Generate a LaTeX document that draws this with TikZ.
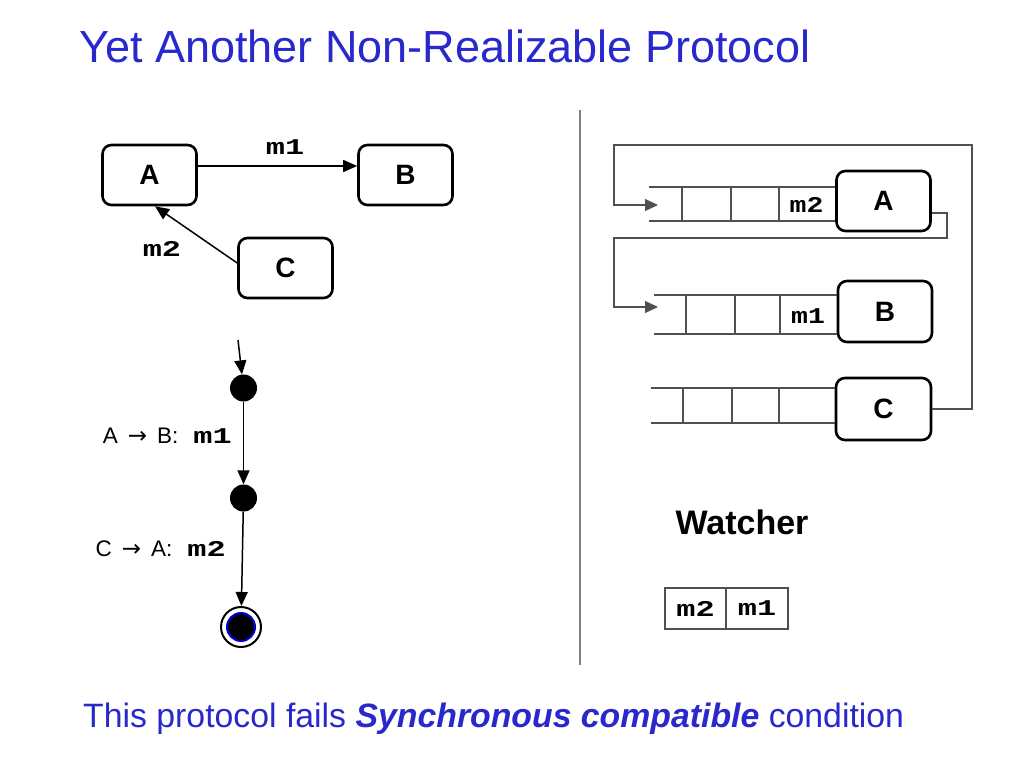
\documentclass[tikz,border=0pt]{standalone}
\usepackage{fontspec}
\setmainfont{Liberation Sans}
\newfontfamily\mono{Liberation Mono}
\newfontfamily\arr{DejaVu Sans}
\usetikzlibrary{arrows.meta}
\definecolor{titleblue}{RGB}{40,40,205}
\definecolor{qgray}{RGB}{80,80,80}
\newcommand\mmsg[2][1.42]{\scalebox{#1}[1]{\mono\bfseries #2}}
\newcommand\tarrow{{\arr\fontsize{23}{23}\selectfont→}}
\begin{document}
\begin{tikzpicture}[x=1pt,y=-1pt,
  rbox/.style={draw,line width=2.6pt,rounded corners=9pt,minimum width=94pt,minimum height=60pt,inner sep=0pt,font=\bfseries\fontsize{28}{28}\selectfont},
  msg/.style={font=\fontsize{22.5}{22.5}\selectfont,inner sep=0pt},
  conn/.style={line width=1.5pt,-{Triangle[length=14pt,width=12pt]}},
  state/.style={circle,fill=black,minimum size=27pt,inner sep=0pt},
  qline/.style={qgray,line width=1.2pt},
  loop/.style={qgray,line width=1.2pt,-{Triangle[length=13pt,width=12pt]}},
  wcell/.style={draw=qgray,line width=1.2pt,minimum height=41pt,inner sep=0pt,font=\fontsize{22.5}{22.5}\selectfont},
  slabel/.style={anchor=base east,inner sep=0pt,font=\fontsize{22.5}{22.5}\selectfont}]
\useasboundingbox (0,0) rectangle (1024,768);
% title
\node[anchor=base west,inner sep=0pt,text=titleblue,font=\fontsize{45}{45}\selectfont] (title) at (79,63) {Yet Another Non-Realizable Protocol};
% top-left graph
\node[rbox] (A) at (149.5,175) {A};
\node[rbox] (B) at (405.5,175) {B};
\node[rbox] (C) at (285.5,268) {C};
\draw[conn] ([yshift=9pt]A.east) -- ([yshift=9pt]B.west);
\draw[conn] ([yshift=5pt]C.west) -- ([xshift=5.5pt]A.south);
\node[msg] (m1lab) at (285,147) {\mmsg{m1}};
\node[msg] (m2lab) at (162,249) {\mmsg{m2}};
% state machine
\coordinate (init) at (238,340);
\node[state] (s1) at (243.5,388) {};
\node[state] (s2) at (243.5,498) {};
\node[circle,draw,line width=2pt,minimum size=40pt,inner sep=0pt] (fin) at (241,627) {};
\node[circle,fill=black,draw=blue!85!black,line width=2pt,minimum size=28pt,inner sep=0pt] (finin) at (241,627) {};
\draw[conn] (init) -- (s1);
\draw[conn] (s1) -- (s2);
\draw[conn] (s2) -- (fin);
\node[slabel] (l1) at (232,443) {A\hspace{10pt}\tarrow\hspace{10pt}B:\hspace{15pt}\mmsg{m1}};
\node[slabel] (l2) at (226,556) {C\hspace{10pt}\tarrow\hspace{10pt}A:\hspace{15pt}\mmsg{m2}};
% divider
\draw[gray,line width=1.2pt] (580,110) -- (580,665);
% queues
\node[rbox] (QA) at (883.5,201) {A};
\node[rbox,minimum height=61pt] (QB) at (885,311.5) {B};
\node[rbox,minimum height=62pt,minimum width=95pt] (QC) at (883.5,409) {C};
% queue A
\draw[qline] (649,187) -- (QA.west|-0,187);
\draw[qline] (649,221) -- (QA.west|-0,221);
\foreach \x in {682,731,779} \draw[qline] (\x,187) -- (\x,221);
\node[msg] (qm2) at (806.5,205) {\mmsg[1.25]{m2}};
% queue B
\draw[qline] (654,295) -- (QB.west|-0,295);
\draw[qline] (654,334) -- (QB.west|-0,334);
\foreach \x in {686,735,780} \draw[qline] (\x,295) -- (\x,334);
\node[msg] (qm1) at (808,316) {\mmsg[1.25]{m1}};
% queue C
\draw[qline] (651,388) -- (QC.west|-0,388);
\draw[qline] (651,423) -- (QC.west|-0,423);
\foreach \x in {683,732,779} \draw[qline] (\x,388) -- (\x,423);
% loops
\coordinate (qain) at (658,205);
\coordinate (qbin) at (658,307);
\draw[loop] (QA.east|-0,213) -- (947,213) -- (947,238) -- (614,238) -- (614,307) -- (qbin);
\draw[loop] (QC.east|-0,409) -- (972,409) -- (972,145) -- (614,145) -- (614,205) -- (qain);
% watcher
\node[inner sep=0pt,font=\bfseries\fontsize{34}{34}\selectfont] (watch) at (742,522) {Watcher};
\node[wcell,minimum width=61pt] (w2) at (695.5,608.5) {\mmsg{m2}};
\node[wcell,minimum width=62pt] (w1) at (757,608.5) {\mmsg{m1}};
% bottom
\node[anchor=base west,inner sep=0pt,text=titleblue,font=\fontsize{33.8}{33.8}\selectfont] (foot) at (83,727) {This protocol fails \textbf{\textit{Synchronous compatible}} condition};
\end{tikzpicture}
\end{document}
